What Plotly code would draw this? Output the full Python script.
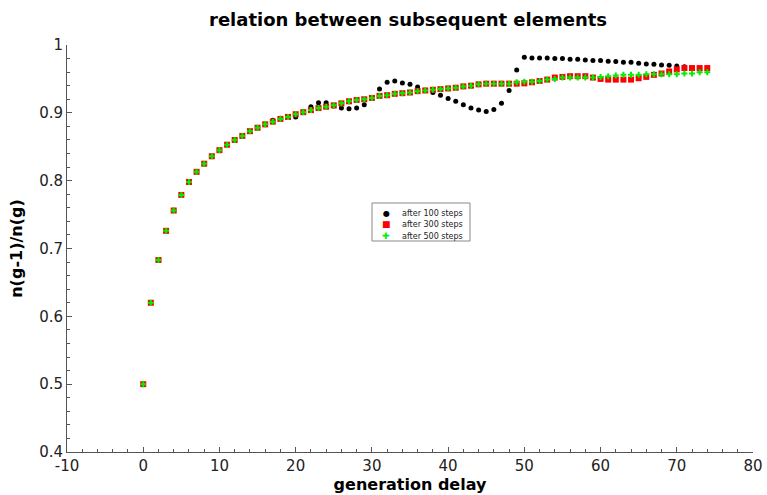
import plotly.graph_objects as go

gen = list(range(0, 75))

common = [0.500, 0.620, 0.683, 0.726, 0.756, 0.779, 0.798, 0.813, 0.825, 0.836,
          0.845, 0.853, 0.860, 0.866, 0.873, 0.878, 0.883, 0.887, 0.891, 0.894,
          0.898, 0.901, 0.904, 0.907, 0.909, 0.911, 0.914, 0.917, 0.919, 0.920,
          0.922, 0.925, 0.926, 0.928, 0.929, 0.930, 0.932, 0.933, 0.934, 0.935,
          0.936, 0.937, 0.939, 0.940, 0.942, 0.943, 0.943, 0.943, 0.943]

red_tail = [0.943, 0.9435, 0.945, 0.947, 0.949, 0.952, 0.953, 0.954, 0.954, 0.954,
            0.952, 0.950, 0.949, 0.949, 0.949, 0.949, 0.951, 0.953, 0.956, 0.958,
            0.961, 0.964, 0.966, 0.966, 0.966, 0.966]

green_tail = [0.945, 0.946, 0.946, 0.947, 0.949, 0.950, 0.952, 0.952, 0.952, 0.952,
              0.952, 0.953, 0.954, 0.955, 0.956, 0.956, 0.956, 0.957, 0.957, 0.957,
              0.957, 0.957, 0.958, 0.958, 0.960, 0.960]

steps100 = common[:17] + [0.889, 0.892, 0.894, 0.894, 0.901, 0.909, 0.915, 0.915, 0.910,
                          0.907, 0.906, 0.907, 0.912, 0.922, 0.935, 0.945, 0.947, 0.944,
                          0.942, 0.938, 0.933, 0.930, 0.926, 0.921, 0.917, 0.912, 0.907,
                          0.904, 0.902, 0.905, 0.914, 0.933, 0.963, 0.982, 0.981, 0.981,
                          0.981, 0.980, 0.980, 0.979, 0.979, 0.978, 0.977, 0.977, 0.976,
                          0.9755, 0.9745, 0.9745, 0.973, 0.972, 0.9715, 0.9705, 0.970,
                          0.969, 0.968]
steps300 = common + red_tail
steps500 = common + green_tail

labels = ["after 100 steps", "after 300 steps", "after 500 steps"]
colors = ["#000000", "#ff0000", "#00ee00"]
glyphs = ["●", "■", "✚"]

x_ticks = [-10, 0, 10, 20, 30, 40, 50, 60, 70, 80]
x_ticktext = ["-10", "0", "10", "20", "30", "40", "50", "60", "70", "80"]
y_ticks = [0.4, 0.5, 0.6, 0.7, 0.8, 0.9, 1.0]
y_ticktext = ["0.4", "0.5", "0.6", "0.7", "0.8", "0.9", "1"]

fig = go.Figure()
fig.add_trace(go.Scatter(x=gen[:len(steps100)], y=steps100, mode="markers", name=labels[0],
                         marker=dict(color=colors[0], size=5, symbol="circle")))
fig.add_trace(go.Scatter(x=gen, y=steps300, mode="markers", name=labels[1],
                         marker=dict(color=colors[1], size=6, symbol="square")))
fig.add_trace(go.Scatter(x=gen, y=steps500, mode="markers", name=labels[2],
                         marker=dict(color=colors[2], size=5, symbol="cross",
                                     line=dict(width=0))))

axis_common = dict(showline=True, linecolor="#555555", linewidth=1, ticks="inside",
                   ticklen=5, tickcolor="#555555", showgrid=False, zeroline=False,
                   tickfont=dict(family="DejaVu Sans", size=15, color="#222222"),
                   mirror=False, automargin=False)

# plot area in pixels: left 67, right 753, top 45, bottom 452
L, R, T, B = 67, 753, 45, 452
def px(xp):
    return (xp - L) / (R - L)
def py(yp):
    return (B - yp) / (B - T)

shapes = [dict(type="rect", xref="paper", yref="paper",
               x0=px(372), x1=px(470), y0=py(241), y1=py(203),
               line=dict(color="#888888", width=1), fillcolor="white", layer="above")]
annotations = []
row_y = [213, 224.5, 236]
gsize = [8, 9, 9]
for i in range(3):
    annotations.append(dict(xref="paper", yref="paper", x=px(386), y=py(row_y[i]),
                            text=glyphs[i], showarrow=False, xanchor="center", yanchor="middle",
                            font=dict(family="DejaVu Sans", size=gsize[i], color=colors[i])))
    annotations.append(dict(xref="paper", yref="paper", x=px(400), y=py(row_y[i]),
                            text=labels[i], showarrow=False, xanchor="left", yanchor="middle",
                            font=dict(family="DejaVu Sans", size=8, color="#222222")))

fig.update_layout(
    width=767, height=495,
    margin=dict(l=L, r=767 - R, t=T, b=495 - B),
    paper_bgcolor="white", plot_bgcolor="white",
    showlegend=False,
    title=dict(text="<b>relation between subsequent elements</b>", x=0.532, xanchor="center",
               y=0.96, yanchor="middle", automargin=False,
               font=dict(family="DejaVu Sans", size=18, color="#000000")),
    font=dict(family="DejaVu Sans"),
    shapes=shapes,
    annotations=annotations,
    xaxis=dict(range=[-10, 80], tickvals=x_ticks, ticktext=x_ticktext, **axis_common,
               minor=dict(dtick=2, ticks="inside", ticklen=3, tickcolor="#555555"),
               title=dict(text="<b>generation delay</b>", standoff=4,
                          font=dict(family="DejaVu Sans", size=16, color="#000000"))),
    yaxis=dict(range=[0.4, 1.0], tickvals=y_ticks, ticktext=y_ticktext, **axis_common,
               minor=dict(dtick=0.02, ticks="inside", ticklen=3, tickcolor="#555555"),
               title=dict(text="<b>n(g-1)/n(g)</b>", standoff=12,
                          font=dict(family="DejaVu Sans", size=16, color="#000000"))),
)

fig.write_html("out.html", config={"displayModeBar": False},
               post_script="document.body.style.margin='0';")
